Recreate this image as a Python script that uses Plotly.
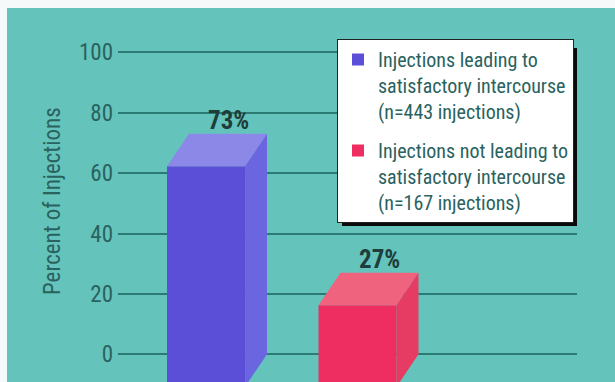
import plotly.graph_objects as go

# ---- data ----
categories = ["Injections leading to<br>satisfactory intercourse<br>(n=443 injections)",
              "Injections not leading to<br>satisfactory intercourse<br>(n=167 injections)"]
values = [73, 27]
value_labels = ["73%", "27%"]
y_ticks = [0, 20, 40, 60, 80, 100]

# ---- style ----
W, H = 615, 382
TEAL = "#64c4bc"
GRID = "#2b7a74"
TXT = "#2a625e"
FONT = "Liberation Sans Narrow, Arial Narrow, Roboto Condensed, DejaVu Sans Condensed, sans-serif"
front_cols = ["#5a4fd6", "#ee2d61"]
top_cols = ["#8b88e7", "#f0637f"]
side_cols = ["#6b66df", "#e63c63"]
BAR_W = 0.515          # bar width in category units
DX = -0.145            # depth offset (category units)
DY = 10.76             # depth offset (value units)

fig = go.Figure()

for i, (cat, v) in enumerate(zip(categories, values)):
    c = i
    xl, xr = c - BAR_W / 2, c + BAR_W / 2
    # front face as bar
    fig.add_trace(go.Bar(
        x=[c + DX], y=[v], base=[-DY], width=[BAR_W], name=cat,
        marker=dict(color=front_cols[i], line=dict(width=0)),
        legendgroup=str(i), showlegend=True, hoverinfo="skip"))
    # top face
    fig.add_trace(go.Scatter(
        x=[xl + DX, xr + DX, xr, xl, xl + DX],
        y=[v - DY, v - DY, v, v, v - DY],
        fill="toself", fillcolor=top_cols[i], mode="none",
        showlegend=False, hoverinfo="skip"))
    # side face
    fig.add_trace(go.Scatter(
        x=[xr + DX, xr, xr, xr + DX, xr + DX],
        y=[v - DY, v, 0, -DY, v - DY],
        fill="toself", fillcolor=side_cols[i], mode="none",
        showlegend=False, hoverinfo="skip"))
    fig.add_annotation(x=c, y=v, text="<b>%s</b>" % value_labels[i],
                       showarrow=False, yanchor="middle", yshift=13,
                       font=dict(family=FONT, size=25, color="#1f3d3b"))

px_per_unit_y = 3.02
y0_px = 354.3
y_range = [-(H - y0_px) / px_per_unit_y, y0_px / px_per_unit_y]
px_per_cat = 151.5
x_range = [-(228 - 118) / px_per_cat, (577 - 228) / px_per_cat]

fig.update_layout(
    width=W, height=H,
    margin=dict(l=0, r=0, t=0, b=0),
    paper_bgcolor=TEAL, plot_bgcolor=TEAL,
    barmode="overlay",
    xaxis=dict(domain=[118 / W, 577 / W], range=x_range, visible=False,
               showgrid=False, zeroline=False, fixedrange=True),
    yaxis=dict(domain=[0, 1], range=y_range, tickvals=y_ticks,
               showgrid=True, gridcolor=GRID, gridwidth=2, zeroline=False,
               showline=False, ticks="", ticklabelstandoff=4,
               tickfont=dict(family=FONT, size=23, color=TXT)),
    legend=dict(x=337 / W, y=1 - 39 / H, xanchor="left", yanchor="top",
                bgcolor="white", bordercolor="#222222", borderwidth=1,
                font=dict(family=FONT, size=20, color=TXT),
                tracegroupgap=10, itemsizing="constant", valign="top",
                itemwidth=30),
    showlegend=True,
    font=dict(family=FONT),
)

fig.add_annotation(xref="paper", yref="paper", x=52 / W, y=1 - 201 / H,
                   xanchor="center", yanchor="middle",
                   text="Percent of Injections", textangle=-90, showarrow=False,
                   font=dict(family=FONT, size=23, color=TXT))

# legend shadow
fig.add_shape(type="rect", xref="paper", yref="paper", layer="above",
              x0=342 / W, x1=577 / W, y0=1 - 226 / H, y1=1 - 48 / H,
              fillcolor="#0a0a0a", line=dict(width=0))
# white border strips of the printed figure
fig.add_shape(type="rect", xref="paper", yref="paper", layer="above",
              x0=0, x1=1, y0=1 - 8 / H, y1=1, fillcolor="#f6f9f9", line=dict(width=0))
fig.add_shape(type="rect", xref="paper", yref="paper", layer="above",
              x0=0, x1=7 / W, y0=0, y1=1, fillcolor="#f6f9f9", line=dict(width=0))

fig.write_html("out.html")
